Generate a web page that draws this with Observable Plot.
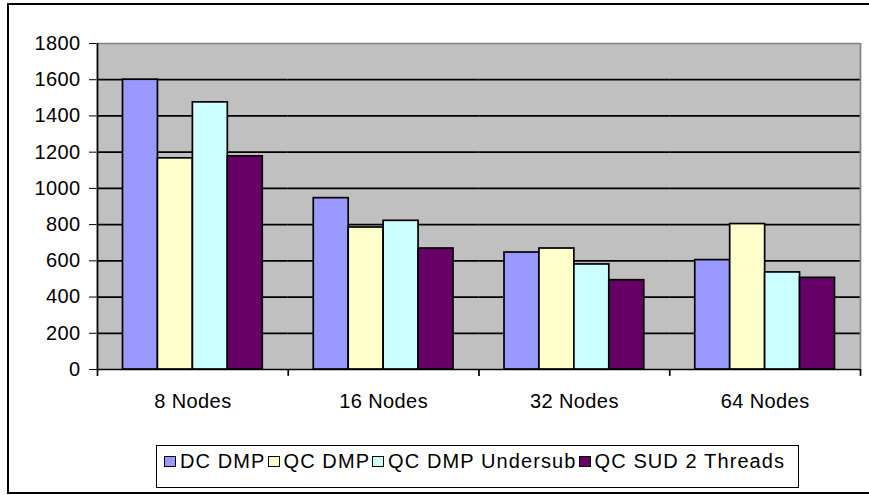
<!DOCTYPE html>
<html><head><meta charset="utf-8">
<script src="https://cdn.jsdelivr.net/npm/d3@7"></script>
<script src="https://cdn.jsdelivr.net/npm/@observablehq/plot@0.6"></script>
<style>
html,body{margin:0;padding:0;background:#fff;overflow:hidden;}
#wrap{position:relative;width:869px;height:495px;overflow:hidden;font-family:"Liberation Sans",Arial,sans-serif;}
#frame{position:absolute;left:7px;top:3px;width:900px;height:491px;border:2px solid #000;box-sizing:border-box;}
#chart{position:absolute;left:0;top:0;}
#legend{position:absolute;left:156px;top:445px;width:643px;height:43px;box-sizing:border-box;border:1.5px solid #000;background:#fff;display:flex;align-items:flex-start;padding:5px 0 0 7px;font-size:20px;line-height:20px;letter-spacing:1.1px;color:#000;white-space:nowrap;}
.item{display:flex;align-items:center;}
.item + .item{margin-left:2px;}
.sw{width:10px;height:9px;border:1px solid #000;margin-right:4px;}
#chart svg text{letter-spacing:0.4px;}
</style>
</head><body>
<div id="wrap"><div id="frame"></div><div id="chart"></div><div id="legend"></div></div>
<script>
const categories = ["8 Nodes", "16 Nodes", "32 Nodes", "64 Nodes"];
const series = ["DC DMP", "QC DMP", "QC DMP Undersub", "QC SUD 2 Threads"];
const dcDmp = [1600, 946, 646, 604];
const qcDmp = [1166, 784, 668, 803];
const qcDmpUndersub = [1475, 821, 580, 536];
const qcSud2Threads = [1177, 668, 493, 506];
const colors = ["#9999ff", "#ffffcc", "#ccffff", "#660066"];
const yTicks = [0, 200, 400, 600, 800, 1000, 1200, 1400, 1600, 1800];

const values = [dcDmp, qcDmp, qcDmpUndersub, qcSud2Threads];
const data = categories.flatMap((c, i) => series.map((s, j) => ({category: c, series: s, value: values[j][i]})));

const W = 869, ML = 97, MR = 9;
const facetW = (W - ML - MR) / categories.length;
const padOuter = 0.73;
const step = facetW / (series.length + 2 * padOuter);
const edge = padOuter * step + step / 2;

const leftBounds = categories.map((c, i) => ({category: c, series: series[0], top: i === 0 ? 1800 : 0}));
const rightBound = [{category: categories[categories.length - 1], series: series[series.length - 1]}];

const chart = Plot.plot({
  width: W, height: 440,
  marginTop: 43, marginLeft: ML, marginRight: MR, marginBottom: 71,
  style: {fontSize: "20px", fontFamily: "'Liberation Sans', Arial, sans-serif", background: "transparent", color: "#000", overflow: "visible"},
  fx: {domain: categories, padding: 0, round: false, label: null, axis: "bottom", tickSize: 0, tickPadding: 24},
  x: {domain: series, paddingInner: 0, paddingOuter: padOuter, round: false, axis: null},
  y: {domain: [0, 1800], ticks: yTicks, tickSize: 8, tickPadding: 9, label: null, tickFormat: d => String(d)},
  color: {domain: series, range: colors},
  marks: [
    Plot.rect([0], {y1: 0, y2: 1800, fill: "#c0c0c0", insetLeft: -0.5, insetRight: -0.5}),
    Plot.ruleY(yTicks.filter(d => d < 1800), {stroke: "#000", strokeWidth: 1.7}),
    Plot.ruleY([1800], {stroke: "#808080", strokeWidth: 1.7}),
    Plot.barY(data, {fx: "category", x: "series", y: "value", fill: "series", stroke: "#000", strokeWidth: 1.7}),
    Plot.ruleX(leftBounds, {fx: "category", x: "series", dx: -edge, y1: -38, y2: "top", stroke: "#000", strokeWidth: 1.7}),
    Plot.ruleX(rightBound, {fx: "category", x: "series", dx: edge, y1: 0, y2: 1800, stroke: "#808080", strokeWidth: 1.7}),
    Plot.ruleX(rightBound, {fx: "category", x: "series", dx: edge, y1: -38, y2: 0, stroke: "#000", strokeWidth: 1.7})
  ]
});
document.getElementById("chart").appendChild(chart);

const legend = document.getElementById("legend");
series.forEach((s, i) => {
  const item = document.createElement("div");
  item.className = "item";
  const sw = document.createElement("div");
  sw.className = "sw";
  sw.style.background = colors[i];
  const t = document.createElement("span");
  t.textContent = s;
  item.appendChild(sw);
  item.appendChild(t);
  legend.appendChild(item);
});
</script>
</body></html>
